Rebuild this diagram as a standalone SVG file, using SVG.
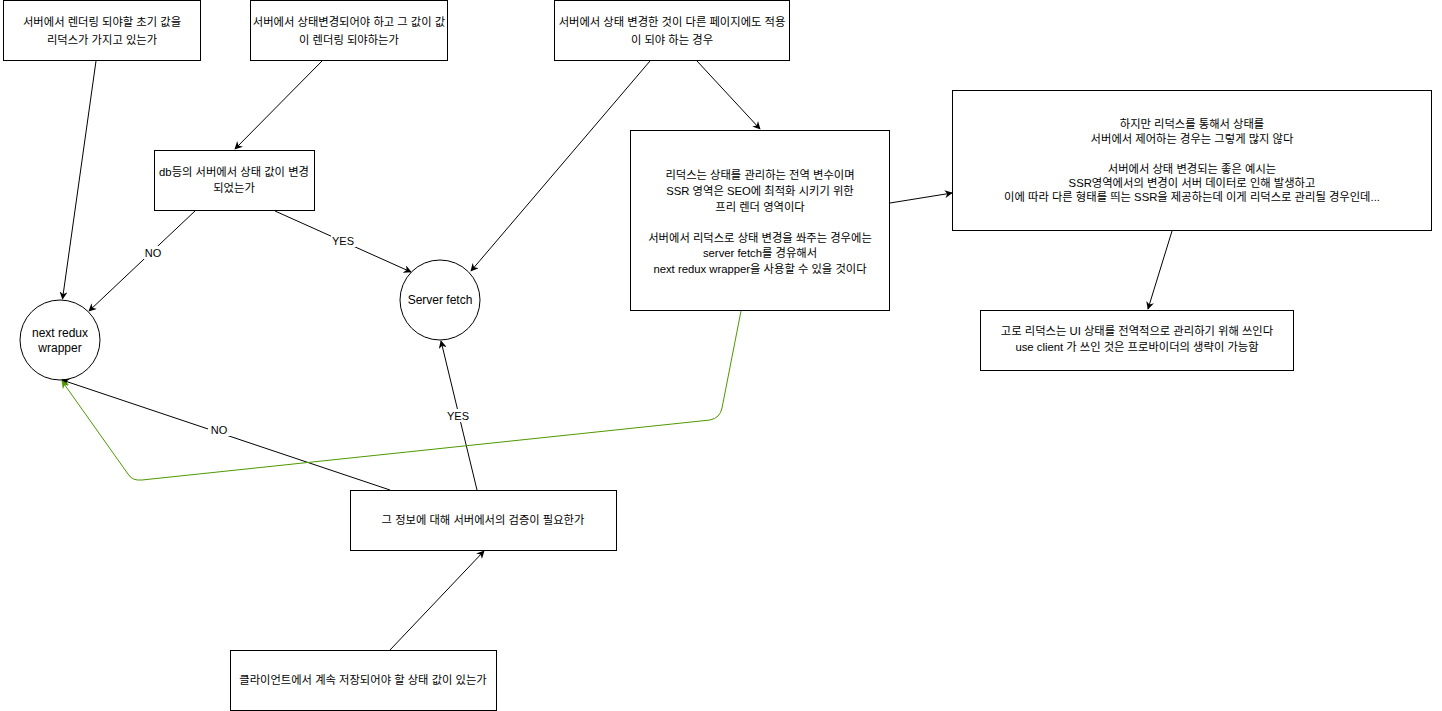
<svg xmlns="http://www.w3.org/2000/svg" width="1442" height="711" viewBox="0 0 1442 711">
<style>
.n{fill:#fff;stroke:#000;stroke-width:1}
.t{font-family:"Liberation Sans","Noto Sans CJK KR",sans-serif;font-size:11.3px;fill:#000;text-anchor:middle}
.c{font-family:"Liberation Sans","Noto Sans CJK KR",sans-serif;font-size:12px;fill:#000;text-anchor:middle}
.l{font-family:"Liberation Sans","Noto Sans CJK KR",sans-serif;font-size:11px;fill:#000;text-anchor:middle}
.e{fill:none;stroke:#000;stroke-width:1}
.g{fill:none;stroke:#4D9900;stroke-width:1}
</style>
<defs>
<marker id="a" viewBox="0 0 10 10" refX="9" refY="5" markerWidth="8" markerHeight="8" markerUnits="userSpaceOnUse" orient="auto"><path d="M0,0 L10,5 L0,10 L3,5 Z" fill="#000"/></marker>
<marker id="ag" viewBox="0 0 10 10" refX="9" refY="5" markerWidth="8" markerHeight="8" markerUnits="userSpaceOnUse" orient="auto"><path d="M0,0 L10,5 L0,10 L3,5 Z" fill="#4D9900"/></marker>
</defs>
<rect width="1442" height="711" fill="#fff"/>
<g id="n1"><rect class="n" x="3.5" y="0.5" width="197" height="60"/><text class="t" x="102" y="26">서버에서 렌더링 되야할 초기 값을</text><text class="t" x="102" y="44">리덕스가 가지고 있는가</text></g>
<g id="n2"><rect class="n" x="250.5" y="0.5" width="197" height="60"/><text class="t" x="349" y="26">서버에서 상태변경되어야 하고 그 값이 값</text><text class="t" x="349" y="44">이 렌더링 되야하는가</text></g>
<g id="n3"><rect class="n" x="554.5" y="0.5" width="235" height="60"/><text class="t" x="672" y="26">서버에서 상태 변경한 것이 다른 페이지에도 적용</text><text class="t" x="672" y="44">이 되야 하는 경우</text></g>
<g id="n4"><rect class="n" x="630.5" y="130.5" width="259" height="180"/>
<text class="t" x="760" y="179">리덕스는 상태를 관리하는 전역 변수이며</text>
<text class="t" x="760" y="195">SSR 영역은 SEO에 최적화 시키기 위한</text>
<text class="t" x="760" y="211">프리 렌더 영역이다</text>
<text class="t" x="760" y="242">서버에서 리덕스로 상태 변경을 쏴주는 경우에는</text>
<text class="t" x="760" y="257">server fetch를 경유해서</text>
<text class="t" x="760" y="273">next redux wrapper을 사용할 수 있을 것이다</text></g>
<g id="n5"><rect class="n" x="952.5" y="90.5" width="479" height="140"/>
<text class="t" x="1192" y="128">하지만 리덕스를 통해서 상태를</text>
<text class="t" x="1192" y="143">서버에서 제어하는 경우는 그렇게 많지 않다</text>
<text class="t" x="1192" y="173">서버에서 상태 변경되는 좋은 예시는</text>
<text class="t" x="1192" y="187">SSR영역에서의 변경이 서버 데이터로 인해 발생하고</text>
<text class="t" x="1192" y="201">이에 따라 다른 형태를 띄는 SSR을 제공하는데 이게 리덕스로 관리될 경우인데...</text></g>
<g id="n6"><rect class="n" x="980.5" y="310.5" width="313" height="60"/><text class="t" x="1137" y="335">고로 리덕스는 UI 상태를 전역적으로 관리하기 위해 쓰인다</text><text class="t" x="1137" y="351">use client 가 쓰인 것은 프로바이더의 생략이 가능함</text></g>
<g id="n7"><rect class="n" x="154.5" y="150.5" width="160" height="60"/><text class="t" x="234" y="176">db등의 서버에서 상태 값이 변경</text><text class="t" x="234" y="192">되었는가</text></g>
<g id="n8"><circle class="n" cx="60" cy="340" r="40"/><text class="c" x="60" y="337">next redux</text><text class="c" x="60" y="352">wrapper</text></g>
<g id="n9"><circle class="n" cx="440" cy="300" r="40"/><text class="c" x="440" y="304">Server fetch</text></g>
<g id="n10"><rect class="n" x="350.5" y="490.5" width="266" height="60"/><text class="t" x="483" y="524">그 정보에 대해 서버에서의 검증이 필요한가</text></g>
<g id="n11"><rect class="n" x="230.5" y="650.5" width="266" height="60"/><text class="t" x="363" y="684">클라이언트에서 계속 저장되어야 할 상태 값이 있는가</text></g>
<g id="edges">
<line class="e" x1="96" y1="61" x2="62.5" y2="299" marker-end="url(#a)"/>
<line class="e" x1="322" y1="61" x2="235" y2="149" marker-end="url(#a)"/>
<line class="e" x1="650" y1="61" x2="471" y2="271" marker-end="url(#a)"/>
<line class="e" x1="697" y1="61" x2="760" y2="129" marker-end="url(#a)"/>
<line class="e" x1="195" y1="211" x2="89" y2="311" marker-end="url(#a)"/>
<line class="e" x1="275" y1="211" x2="411" y2="272" marker-end="url(#a)"/>
<line class="e" x1="390" y1="490" x2="62" y2="380" marker-end="url(#a)"/>
<line class="e" x1="477" y1="490" x2="441" y2="341" marker-end="url(#a)"/>
<line class="e" x1="390" y1="650" x2="484" y2="551" marker-end="url(#a)"/>
<line class="e" x1="890" y1="203" x2="952" y2="193" marker-end="url(#a)"/>
<line class="e" x1="1172" y1="231" x2="1148" y2="309" marker-end="url(#a)"/>
<path class="g" d="M741,311 L722,408 Q720,418 710,420 L142,480 Q132,481 128,474 L62,381" marker-end="url(#ag)"/>
<rect x="142" y="246" width="22" height="13" fill="#fff"/><text class="l" x="153" y="257">NO</text>
<rect x="331" y="234" width="25" height="13" fill="#fff"/><text class="l" x="343" y="245">YES</text>
<rect x="208" y="423" width="22" height="13" fill="#fff"/><text class="l" x="219" y="434">NO</text>
<rect x="446" y="409" width="25" height="13" fill="#fff"/><text class="l" x="458" y="420">YES</text>
</g>
</svg>
